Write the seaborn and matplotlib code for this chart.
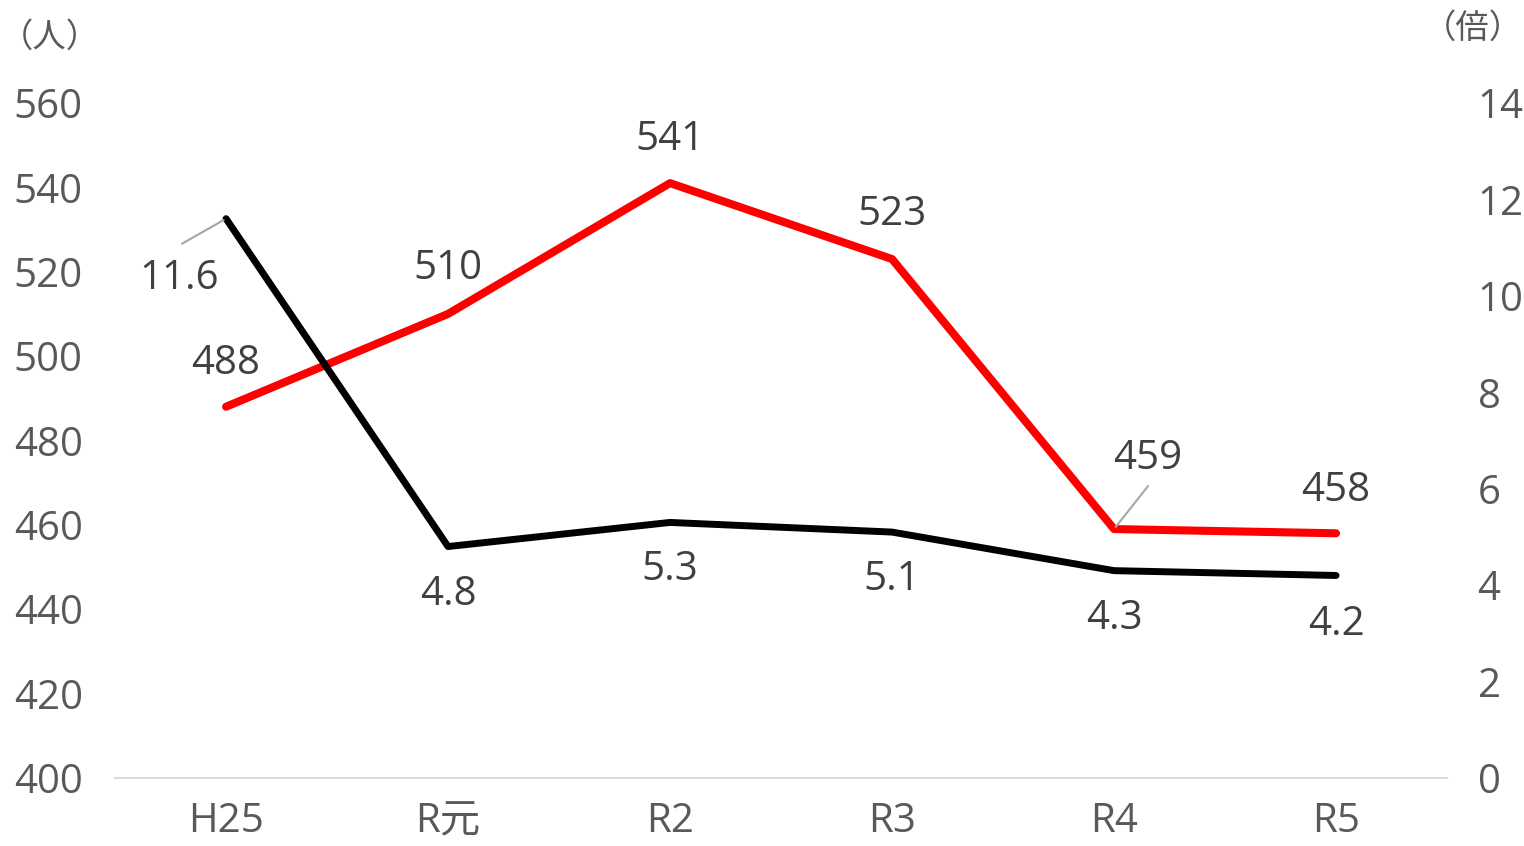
import numpy as np
import pandas as pd
import matplotlib
matplotlib.use("Agg")
import matplotlib.pyplot as plt
import seaborn as sns


# DATA

years = ["H25", "R元", "R2", "R3", "R4", "R5"]

people = [488, 510, 541, 523, 459, 458]

ratio = [11.6, 4.8, 5.3, 5.1, 4.3, 4.2]

left_ticks = [400, 420, 440, 460, 480, 500, 520, 540, 560]
right_ticks = [0, 2, 4, 6, 8, 10, 12, 14]

# label offsets in pixels (dx, dy) relative to each point
people_offsets = [(0, 43), (0, 45), (0, 43), (0, 44), (34, 70), (0, 43)]
ratio_offsets = [(-47, -60), (0, -48), (0, -47), (0, -48), (0, -48), (0, -49)]

# leader lines: start of the line, offset in pixels from the point
people_leader = [None, None, None, None, (34, 43), None]
ratio_leader = [(-44, -25), None, None, None, None, None]


# STYLE

sns.set_theme(style="white")

plt.rcParams["font.family"] = ["Open Sans", "Noto Sans CJK JP", "DejaVu Sans"]

TEXT_COLOR = "#595959"
LABEL_COLOR = "#404040"
FS = 29


def add_labels(a, values, offsets, leaders, fmt):

    for i, v in enumerate(values):

        dx, dy = offsets[i]

        a.annotate(
            fmt.format(v),
            xy=(i, v),
            xytext=(dx, dy),
            textcoords="offset pixels",
            ha="center",
            va="center",
            fontsize=FS,
            color=LABEL_COLOR,
            zorder=5
        )

        if leaders[i] is not None:

            a.annotate(
                "",
                xy=(i, v),
                xytext=leaders[i],
                textcoords="offset pixels",
                arrowprops=dict(
                    arrowstyle="-",
                    color="#a6a6a6",
                    lw=1.5,
                    shrinkA=0,
                    shrinkB=2
                )
            )


def main():

    df = pd.DataFrame({
        "year": years,
        "x": np.arange(len(years)),
        "people": people,
        "ratio": ratio
    })

    fig = plt.figure(figsize=(15.24, 8.46), dpi=100)

    ax = fig.add_axes([0.0755, 0.0804, 0.874, 0.7979])
    ax2 = ax.twinx()

    sns.lineplot(
        data=df,
        x="x",
        y="people",
        ax=ax,
        color="#FF0000",
        linewidth=5.8,
        solid_capstyle="round",
        solid_joinstyle="round",
        zorder=3
    )

    sns.lineplot(
        data=df,
        x="x",
        y="ratio",
        ax=ax2,
        color="#000000",
        linewidth=5.0,
        solid_capstyle="round",
        solid_joinstyle="round",
        zorder=3
    )

    ax.set_xlim(-0.5, len(years) - 0.5)
    ax.set_ylim(400, 560)
    ax2.set_ylim(0, 14)

    ax.set_xticks(df["x"])
    ax.set_xticklabels(years)
    ax.set_yticks(left_ticks)
    ax2.set_yticks(right_ticks)

    for a in (ax, ax2):
        a.set_xlabel("")
        a.set_ylabel("")
        a.grid(False)
        for s in a.spines.values():
            s.set_visible(False)
        a.tick_params(length=0, labelsize=FS, colors=TEXT_COLOR)

    ax.spines["bottom"].set_visible(True)
    ax.spines["bottom"].set_color("#d9d9d9")
    ax.spines["bottom"].set_linewidth(1.5)

    # left labels start near the figure edge (pad in points)
    for lab in ax.get_yticklabels():
        lab.set_horizontalalignment("left")
    ax.tick_params(axis="y", pad=73)
    ax.tick_params(axis="x", pad=17)
    ax2.tick_params(axis="y", pad=22)

    add_labels(ax, people, people_offsets, people_leader, "{:d}")
    add_labels(ax2, ratio, ratio_offsets, ratio_leader, "{:.1f}")

    # unit labels

    fig.text(
        0.0, 0.955,
        "（人）",
        fontsize=24,
        color=TEXT_COLOR,
        ha="left",
        va="center"
    )

    fig.text(
        0.999, 0.965,
        "（倍）",
        fontsize=24,
        color=TEXT_COLOR,
        ha="right",
        va="center"
    )

    fig.savefig("out.png", dpi=100)


if __name__ == "__main__":
    main()
